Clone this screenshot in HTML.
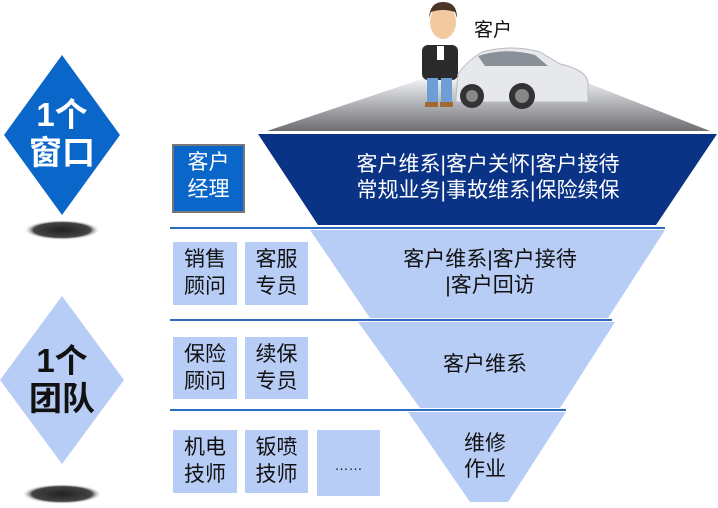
<!DOCTYPE html>
<html><head><meta charset="utf-8"><style>
body{margin:0;width:718px;height:508px;background:#fff;overflow:hidden;position:relative;font-family:"Liberation Sans","Noto Sans CJK SC",sans-serif}
.t{position:absolute;text-align:center;line-height:26px}
.box{position:absolute;background:#b8cdf5;color:#111;font-size:21px;line-height:27px;text-align:center;box-sizing:border-box;padding-top:4px}
</style></head><body>
<svg width="718" height="508" style="position:absolute;left:0;top:0">
<defs>
<linearGradient id="g" x1="0" y1="0" x2="0" y2="1"><stop offset="0" stop-color="#f2f4f8"/><stop offset="1" stop-color="#6e6e72"/></linearGradient>
<radialGradient id="sh"><stop offset="0" stop-color="#222"/><stop offset="0.75" stop-color="#444"/><stop offset="1" stop-color="#fff" stop-opacity="0"/></radialGradient>
</defs>
<polygon points="267,131 425,78 580,80 710,131" fill="url(#g)"/>
<polygon points="258,134 717,134 656,225 318,225" fill="#0a3386"/>
<line x1="170" y1="228" x2="665" y2="228" stroke="#2b6cc0" stroke-width="2"/>
<polygon points="310,230 665,230 608,318 370,318" fill="#b8cdf5"/>
<line x1="170" y1="320" x2="612" y2="320" stroke="#2b6cc0" stroke-width="2"/>
<polygon points="358,322 615,322 560,408 420,408" fill="#b8cdf5"/>
<line x1="170" y1="410" x2="566" y2="410" stroke="#2b6cc0" stroke-width="2"/>
<polygon points="408,412 566,412 508,502 470,502" fill="#b8cdf5"/>
<polygon points="62,55 120,135 62,215 4,135" fill="#0a66c8"/>
<ellipse cx="62" cy="230" rx="38" ry="10" fill="url(#sh)"/>
<polygon points="62,296 124,380 62,464 0,380" fill="#b8cdf5"/>
<ellipse cx="62" cy="494" rx="40" ry="10" fill="url(#sh)"/>
<!-- person -->
<ellipse cx="443" cy="22" rx="13" ry="17" fill="#f3c9a0"/>
<path d="M429,18 Q430,2 443,2 Q457,2 457,18 L455,12 Q443,8 431,12 Z" fill="#4a3526"/>
<rect x="422" y="45" width="36" height="35" rx="6" fill="#2a2a2a"/>
<rect x="437" y="46" width="7" height="14" fill="#fff"/>
<rect x="427" y="78" width="11" height="26" fill="#6d9fd6"/>
<rect x="441" y="78" width="11" height="26" fill="#6d9fd6"/>
<rect x="425" y="102" width="13" height="5" fill="#a06a30"/><rect x="440" y="102" width="13" height="5" fill="#a06a30"/>
<!-- car -->
<path d="M456,98 L458,74 Q468,60 482,52 Q512,44 540,52 L560,64 Q588,70 588,84 L588,102 L456,102 Z" fill="#e6e8ec" stroke="#b8bcc2"/>
<path d="M478,56 Q505,47 535,55 L548,66 L485,66 Z" fill="#8a9098"/>
<circle cx="472" cy="96" r="12" fill="#333"/><circle cx="522" cy="96" r="13" fill="#333"/>
<circle cx="472" cy="96" r="6" fill="#888"/><circle cx="522" cy="96" r="7" fill="#888"/>
</svg>
<div class="t" style="left:474px;top:18px;font-size:19px;color:#111">客户</div>
<div class="t" style="left:18px;top:96px;width:88px;font-size:33px;font-weight:bold;color:#fff;line-height:38px">1个<br>窗口</div>
<div class="t" style="left:18px;top:342px;width:88px;font-size:33px;font-weight:bold;color:#111;line-height:38px">1个<br>团队</div>
<div class="box" style="left:172px;top:144px;width:73px;height:69px;background:#0a66c8;color:#fff;border:2px solid #777;padding-top:3px">客户<br>经理</div>
<div class="box" style="left:173px;top:242px;width:64px;height:63px">销售<br>顾问</div>
<div class="box" style="left:245px;top:242px;width:63px;height:63px">客服<br>专员</div>
<div class="box" style="left:173px;top:337px;width:64px;height:62px">保险<br>顾问</div>
<div class="box" style="left:245px;top:337px;width:63px;height:62px">续保<br>专员</div>
<div class="box" style="left:173px;top:430px;width:64px;height:63px">机电<br>技师</div>
<div class="box" style="left:245px;top:430px;width:63px;height:63px">钣喷<br>技师</div>
<div class="box" style="left:317px;top:430px;width:63px;height:66px;padding-top:22px;font-size:14px">……</div>
<div class="t" style="left:310px;top:152px;width:356px;font-size:21px;color:#fff">客户维系|客户关怀|客户接待<br>常规业务|事故维系|保险续保</div>
<div class="t" style="left:335px;top:247px;width:310px;font-size:21px;color:#111">客户维系|客户接待<br>|客户回访</div>
<div class="t" style="left:400px;top:352px;width:170px;font-size:21px;color:#111">客户维系</div>
<div class="t" style="left:440px;top:431px;width:90px;font-size:21px;color:#111">维修<br>作业</div>
</body></html>
